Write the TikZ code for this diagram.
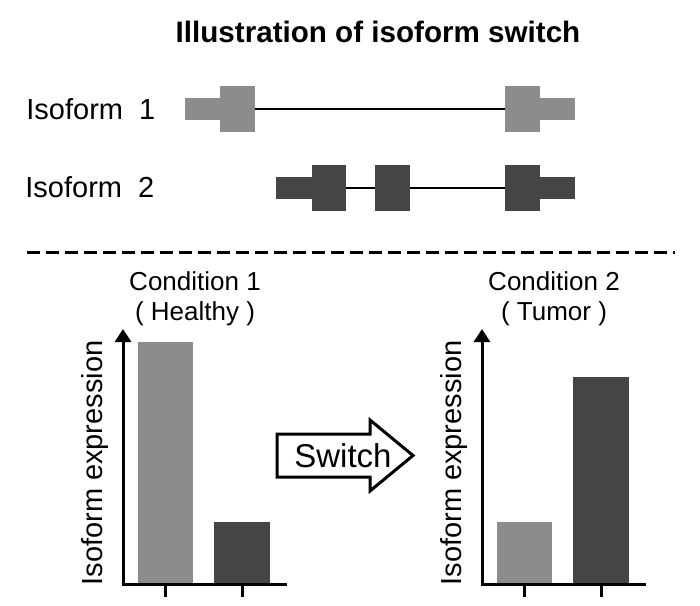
\documentclass[tikz,border=0pt]{standalone}
\usepackage{fontspec}
\setmainfont{Liberation Sans}
\usetikzlibrary{arrows.meta,positioning}

\begin{document}
\begin{tikzpicture}[x=0.5pt,y=-0.5pt,node distance=5pt,
  txt/.style={inner sep=0pt,font=\fontsize{14.5}{16}\selectfont},
  light/.style={fill=black!45},dark/.style={fill=black!73},
  axis/.style={line width=1.5pt},>={Triangle[length=6.5pt,width=8pt]}]
\useasboundingbox (0,0) rectangle (700,605);
\node[txt,font=\fontsize{14.8}{16}\selectfont\bfseries] (title) at (378,32) {Illustration of isoform switch};
\node[txt,anchor=west] (iso1) at (26,109) {Isoform\ \ 1};
\node[txt,anchor=west] (iso2) at (25,187) {Isoform\ \ 2};
% isoform 1
\draw[line width=1.2pt] (255,109) -- (505,109);
\foreach \a/\b/\h in {185/220/11,220/255/23,505/540/23,540/575/11}
  \fill[light] (\a,109-\h) rectangle (\b,109+\h);
% isoform 2
\draw[line width=1.2pt] (346,188) -- (505,188);
\foreach \a/\b/\h in {276/312/11,312/346/23,375/410/23,505/540/23,540/575/11}
  \fill[dark] (\a,188-\h) rectangle (\b,188+\h);
\draw[line width=1.5pt,dash pattern=on 6.5pt off 3pt] (27,252) -- (675,252);
% conditions
\node[txt,font=\fontsize{13}{15}\selectfont] (cond1) at (195,281) {Condition 1};
\node[txt,font=\fontsize{13}{15}\selectfont,below=of cond1] (health) {( Healthy )};
\node[txt,font=\fontsize{13}{15}\selectfont] (cond2) at (554,281) {Condition 2};
\node[txt,font=\fontsize{13}{15}\selectfont,below=of cond2] (tumor) {( Tumor )};
% bar charts
\foreach \ox/\hA/\hB/\n in {123/242/62/1,482/62/207/2}{
  \fill[light] (\ox+14.5,584) rectangle (\ox+70,584-\hA);
  \fill[dark] (\ox+91,584) rectangle (\ox+147,584-\hB);
  \draw[axis,<-] (\ox,329) -- (\ox,584) -- (\ox+164,584);
  \draw[axis] (\ox+42.5,584) -- (\ox+42.5,597) (\ox+119,584) -- (\ox+119,597);
  \node[txt,rotate=90] (ylab\n) at (\ox-28,463) {Isoform expression};
}
% switch arrow
\draw[line width=1.5pt,line join=miter] (277,434) -- (370,434) -- (370,420) -- (413,455.5)
  -- (370,491) -- (370,477) -- (277,477) -- cycle;
\node[txt,font=\fontsize{16.5}{18}\selectfont] (switch) at (343,455.5) {Switch};
\end{tikzpicture}
\end{document}
